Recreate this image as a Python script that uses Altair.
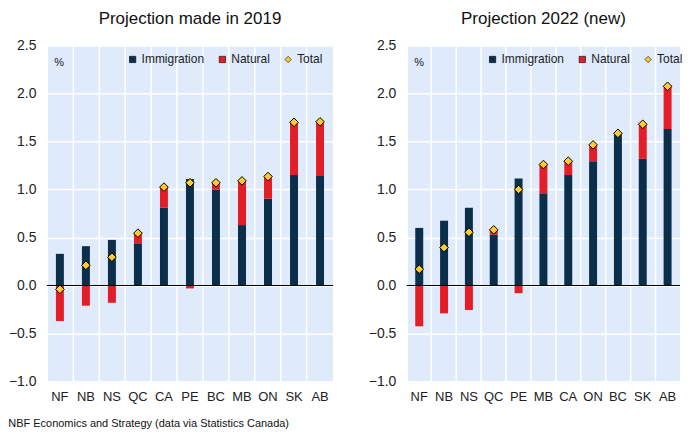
import altair as alt
import pandas as pd

# ---- data ----
cats_2019 = ["NF", "NB", "NS", "QC", "CA", "PE", "BC", "MB", "ON", "SK", "AB"]
imm_2019 = [0.33, 0.41, 0.475, 0.44, 0.81, 1.11, 1.00, 0.63, 0.905, 1.15, 1.14]
nat_2019 = [-0.37, -0.21, -0.18, 0.105, 0.22, -0.03, 0.07, 0.46, 0.23, 0.545, 0.565]
tot_2019 = [-0.04, 0.21, 0.295, 0.545, 1.025, 1.07, 1.07, 1.09, 1.135, 1.70, 1.705]

cats_2022 = ["NF", "NB", "NS", "QC", "PE", "MB", "CA", "ON", "BC", "SK", "AB"]
imm_2022 = [0.60, 0.675, 0.81, 0.53, 1.115, 0.96, 1.15, 1.295, 1.57, 1.32, 1.63]
nat_2022 = [-0.425, -0.29, -0.255, 0.05, -0.08, 0.30, 0.145, 0.17, 0.02, 0.36, 0.445]
tot_2022 = [0.17, 0.395, 0.555, 0.58, 1.00, 1.26, 1.295, 1.465, 1.585, 1.68, 2.075]

series = ["Immigration", "Natural", "Total"]
colors = ["#0b2f4b", "#e31e26", "#ffcb2e"]
shapes = ["square", "square", "diamond"]

BG = "#dfeafb"
W1, W2, H = 287, 274, 337


def legend():
    return alt.Legend(title=None, orient="none", direction="horizontal",
                      legendX=80, legendY=8, labelFontSize=12,
                      labelColor="#222", symbolSize=40, padding=0,
                      symbolStrokeColor="black", symbolStrokeWidth=0.6,
                      columnPadding=12, labelOffset=3)


def panel(title, cats, imm, nat, tot, width):
    bars = pd.DataFrame(
        {"cat": cats * 2,
         "series": ["Immigration"] * len(cats) + ["Natural"] * len(cats),
         "value": list(imm) + list(nat)}
    )
    pts = pd.DataFrame({"cat": cats, "series": ["Total"] * len(cats), "value": tot})

    x = alt.X("cat:N", sort=cats, title=None,
              scale=alt.Scale(paddingInner=0, paddingOuter=0),
              axis=alt.Axis(labelAngle=0, ticks=False, domain=False, labelPadding=9,
                            labelFontSize=13, labelColor="#222", grid=True,
                            gridColor="white", gridWidth=1.5, bandPosition=0))
    y = alt.Y("value:Q", title="%",
              scale=alt.Scale(domain=[-1.0, 2.5], nice=False, zero=False),
              axis=alt.Axis(values=[-1.0, -0.5, 0.0, 0.5, 1.0, 1.5, 2.0, 2.5],
                            format=".1f", ticks=False, domain=False, labelPadding=11,
                            labelFontSize=14, labelColor="#222", gridColor="white",
                            gridWidth=1.5, titleAngle=0, titleX=7, titleY=22,
                            titleAlign="left", titleFontWeight="normal",
                            titleFontSize=11, titleColor="#222"))
    color = alt.Color("series:N", scale=alt.Scale(domain=series, range=colors),
                      legend=legend())
    shape = alt.Shape("series:N", scale=alt.Scale(domain=series, range=shapes),
                      legend=legend())

    b = alt.Chart(bars).mark_bar(size=8).encode(
        x=x, y=y, color=color, order=alt.Order("series:N"),
    )
    zero = alt.Chart(pd.DataFrame({"z": [0]})).mark_rule(color="black", strokeWidth=1.2).encode(
        y=alt.Y("z:Q")
    )
    p = alt.Chart(pts).mark_point(filled=True, size=75, stroke="black", strokeWidth=1,
                                  opacity=1).encode(
        x=alt.X("cat:N", sort=cats), y=alt.Y("value:Q"), color=color, shape=shape
    )
    return alt.layer(b, zero, p).properties(
        width=width, height=H,
        title=alt.TitleParams(title, fontSize=17, fontWeight="normal", color="#111",
                              anchor="middle", offset=11)
    )


left = panel("Projection made in 2019", cats_2019, imm_2019, nat_2019, tot_2019, W1)
right = panel("Projection 2022 (new)", cats_2022, imm_2022, nat_2022, tot_2022, W2)

chart = alt.hconcat(left, right, spacing=34).resolve_scale(
    color="independent", shape="independent", x="independent"
).resolve_legend(color="independent", shape="independent").properties(
    title=alt.TitleParams("NBF Economics and Strategy (data via Statistics Canada)",
                          orient="bottom", anchor="start", fontSize=11,
                          fontWeight="normal", color="#111", offset=15)
).configure(
    font="Liberation Sans",
    padding={"left": 0, "top": 1, "right": 0, "bottom": 0},
).configure_view(
    fill=BG, stroke=None
).configure_axis(
    gridColor="white"
)

chart.save("out.html", embed_options={"renderer": "svg", "actions": False})
